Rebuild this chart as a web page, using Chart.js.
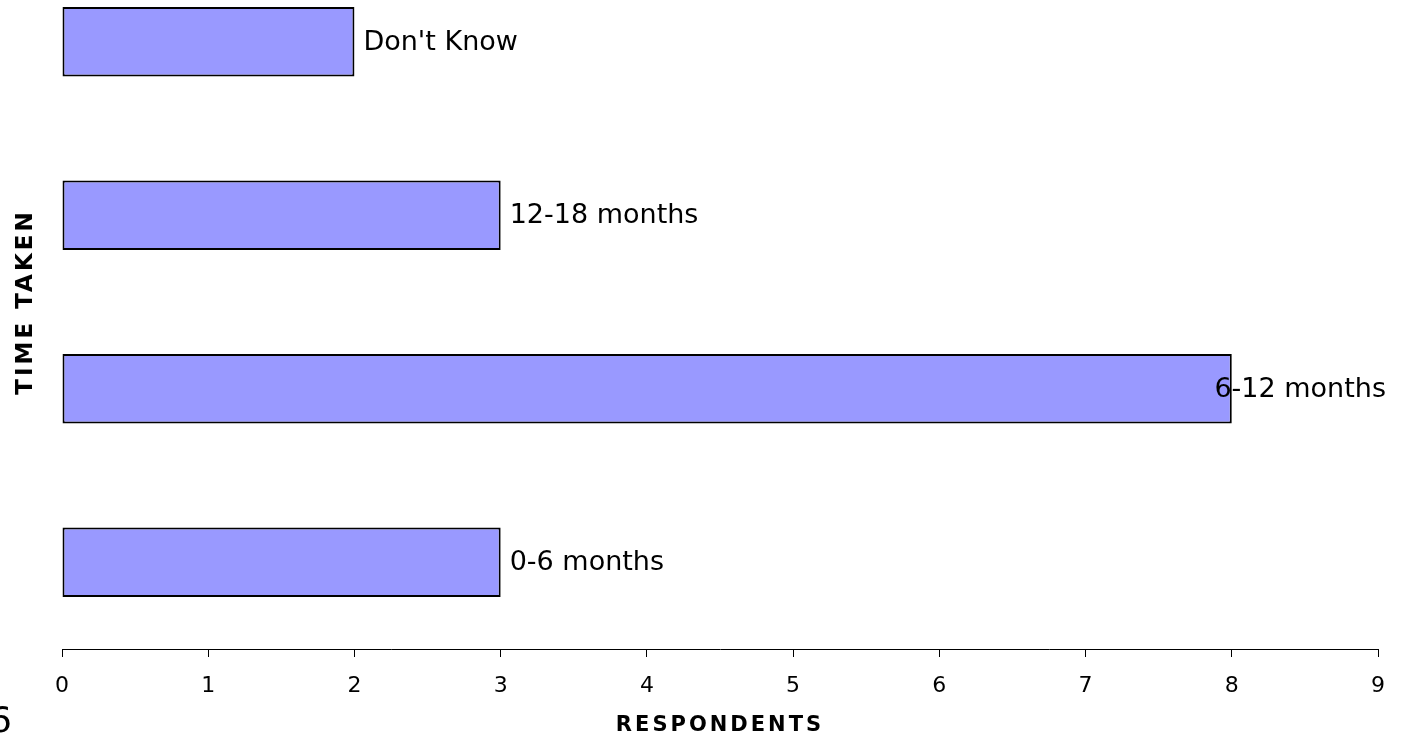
<!DOCTYPE html>
<html>
<head>
<meta charset="utf-8">
<script src="https://cdn.jsdelivr.net/npm/chart.js@4.4.1/dist/chart.umd.min.js"></script>
<style>
  html, body { margin: 0; padding: 0; background: #fff; overflow: hidden; }
  body { width: 1406px; height: 736px; position: relative; }
  #wrap { position: absolute; left: 0; top: -45px; width: 1406px; height: 781px; }
  #pagenum { position: absolute; left: -11px; top: 699px; font: 36px "DejaVu Sans"; color: #000; }
</style>
</head>
<body>
<div id="wrap"><canvas id="grafik" width="1406" height="781"></canvas></div>
<div id="pagenum">6</div>
<script>
// ======= Data =======
const kategori = ["Don't Know", "12-18 months", "6-12 months", "0-6 months"];
const responden = [2, 3, 8, 3];
const tickX = [0, 1, 2, 3, 4, 5, 6, 7, 8, 9];
const judulX = 'RESPONDENTS';
const judulY = 'TIME TAKEN';

// ======= Label di ujung batang =======
const labelUjung = {
    id: 'labelUjung',
    afterDatasetsDraw(chart) {
        const ctx = chart.ctx;
        const meta = chart.getDatasetMeta(0);
        ctx.save();
        ctx.font = '27px "DejaVu Sans"';
        ctx.fillStyle = '#000';
        ctx.textBaseline = 'middle';
        ctx.textAlign = 'left';
        meta.data.forEach((bar, i) => {
            const teks = chart.data.labels[i];
            const w = ctx.measureText(teks).width;
            const x = Math.min(bar.x + 9, chart.width - 20 - w);
            ctx.fillText(teks, x, bar.y + 1);
        });
        ctx.restore();
    }
};

// ======= Jarak huruf judul sumbu =======
const jarakHuruf = {
    id: 'jarakHuruf',
    beforeDraw(chart) { chart.ctx.letterSpacing = '3px'; },
    beforeDatasetsDraw(chart) { chart.ctx.letterSpacing = '0px'; }
};

const ctx = document.getElementById('grafik').getContext('2d');
new Chart(ctx, {
    type: 'bar',
    data: {
        labels: kategori,
        datasets: [{
            data: responden,
            backgroundColor: '#9999FF',
            borderColor: '#000000',
            borderWidth: 2,
            borderSkipped: false,
            barPercentage: 0.4,
            categoryPercentage: 1
        }]
    },
    options: {
        indexAxis: 'y',
        responsive: false,
        animation: false,
        devicePixelRatio: 1,
        layout: { padding: { left: 0, right: 28, top: 0, bottom: 0 } },
        plugins: {
            legend: { display: false },
            tooltip: { enabled: false }
        },
        scales: {
            x: {
                type: 'linear',
                min: 0,
                max: 9,
                afterBuildTicks(axis) { axis.ticks = tickX.map(v => ({ value: v })); },
                grid: { display: true, drawOnChartArea: false, drawTicks: true, tickLength: 8, color: '#000' },
                border: { display: true, color: '#000', width: 1 },
                ticks: {
                    z: 1,
                    autoSkip: false,
                    color: '#000',
                    padding: 18,
                    font: { family: 'DejaVu Sans', size: 22, lineHeight: 1 }
                },
                title: {
                    display: true,
                    text: judulX,
                    color: '#000',
                    padding: { top: 0, bottom: 0 },
                    font: { family: 'DejaVu Sans', size: 21, weight: 'bold', lineHeight: 1 }
                }
            },
            y: {
                grid: { display: false },
                border: { display: false },
                ticks: { display: false },
                title: {
                    display: true,
                    text: judulY,
                    color: '#000',
                    padding: { top: 15, bottom: 16 },
                    font: { family: 'DejaVu Sans', size: 23, weight: 'bold', lineHeight: 1 }
                }
            }
        }
    },
    plugins: [labelUjung, jarakHuruf]
});
</script>
</body>
</html>
